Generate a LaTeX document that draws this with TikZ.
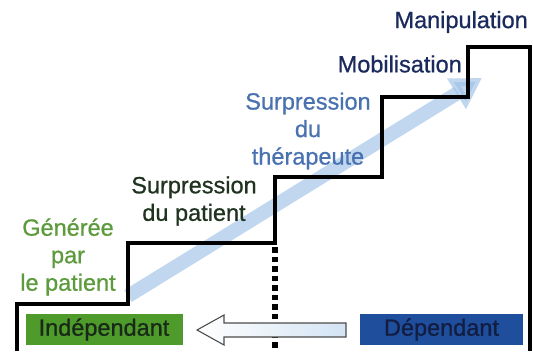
\documentclass[tikz,border=0pt]{standalone}
\usepackage{fontspec}
\setmainfont{Liberation Sans}[FakeBold=0.8]
\usetikzlibrary{arrows.meta}
\definecolor{navy}{HTML}{1A2A5C}
\definecolor{steel}{HTML}{4A72B0}
\definecolor{darkgr}{HTML}{1F331F}
\definecolor{lightgr}{HTML}{5C9A3C}
\definecolor{boxgreen}{HTML}{4E9A2A}
\definecolor{boxblue}{HTML}{1E4E9C}
\definecolor{diag}{HTML}{9EC2E6}
\tikzset{
  lbl/.style={font=\fontsize{23.5}{27.5}\selectfont, align=center, inner sep=0pt},
  stair/.style={line width=3.8pt, line join=miter, draw=black},
  boxlbl/.style={font=\fontsize{23.5}{27}\selectfont, minimum height=31pt, inner sep=0pt, anchor=center}
}
\begin{document}
\begin{tikzpicture}[x=1pt,y=-1pt]
\useasboundingbox (0,0) rectangle (533,351);
% diagonal arrow
\coordinate (ds) at (128,296);
\coordinate (de) at (482,78);
\draw[diag, opacity=0.65, line width=14pt, -{Triangle[width=34pt,length=30pt]}] (ds) -- (de);
% staircase
\draw[stair] (17,351) -- (17,304) -- (128,304) -- (128,243) -- (275,243) -- (275,177) -- (382,177) -- (382,97) -- (468,97) -- (468,47) -- (530,47) -- (530,351);
% dotted separator
\coordinate (dt) at (275,247);
\coordinate (db) at (275,351);
\draw[line width=5.5pt, dash pattern=on 5.5pt off 4pt] (dt) -- (db);
% boxes
\node[boxlbl, fill=boxgreen, text=darkgr!80!black, minimum width=157pt] (indep) at (104,329.5) {Indépendant};
\node[boxlbl, fill=boxblue, text=navy!70!black, minimum width=163pt] (dep) at (441.5,329.5) {Dépendant};
% hollow arrow
\draw[draw=gray!60!black, line width=1.1pt, left color=white, right color=diag!45, line join=miter]
  (346,323) -- (224,323) -- (224,315) -- (197,330) -- (224,345) -- (224,337) -- (346,337) -- cycle;
% labels
\node[lbl, text=navy, anchor=east] (manip) at (528,22) {Manipulation};
\node[lbl, text=navy, anchor=east] (mobil) at (462,64) {Mobilisation};
\node[lbl, text=steel] (ther) at (308,131) {Surpression\\du\\thérapeute};
\node[lbl, text=darkgr] (supp) at (194,201) {Surpression\\du patient};
\node[lbl, text=lightgr] (gen) at (68,257) {Générée\\par\\le patient};
\end{tikzpicture}
\end{document}
